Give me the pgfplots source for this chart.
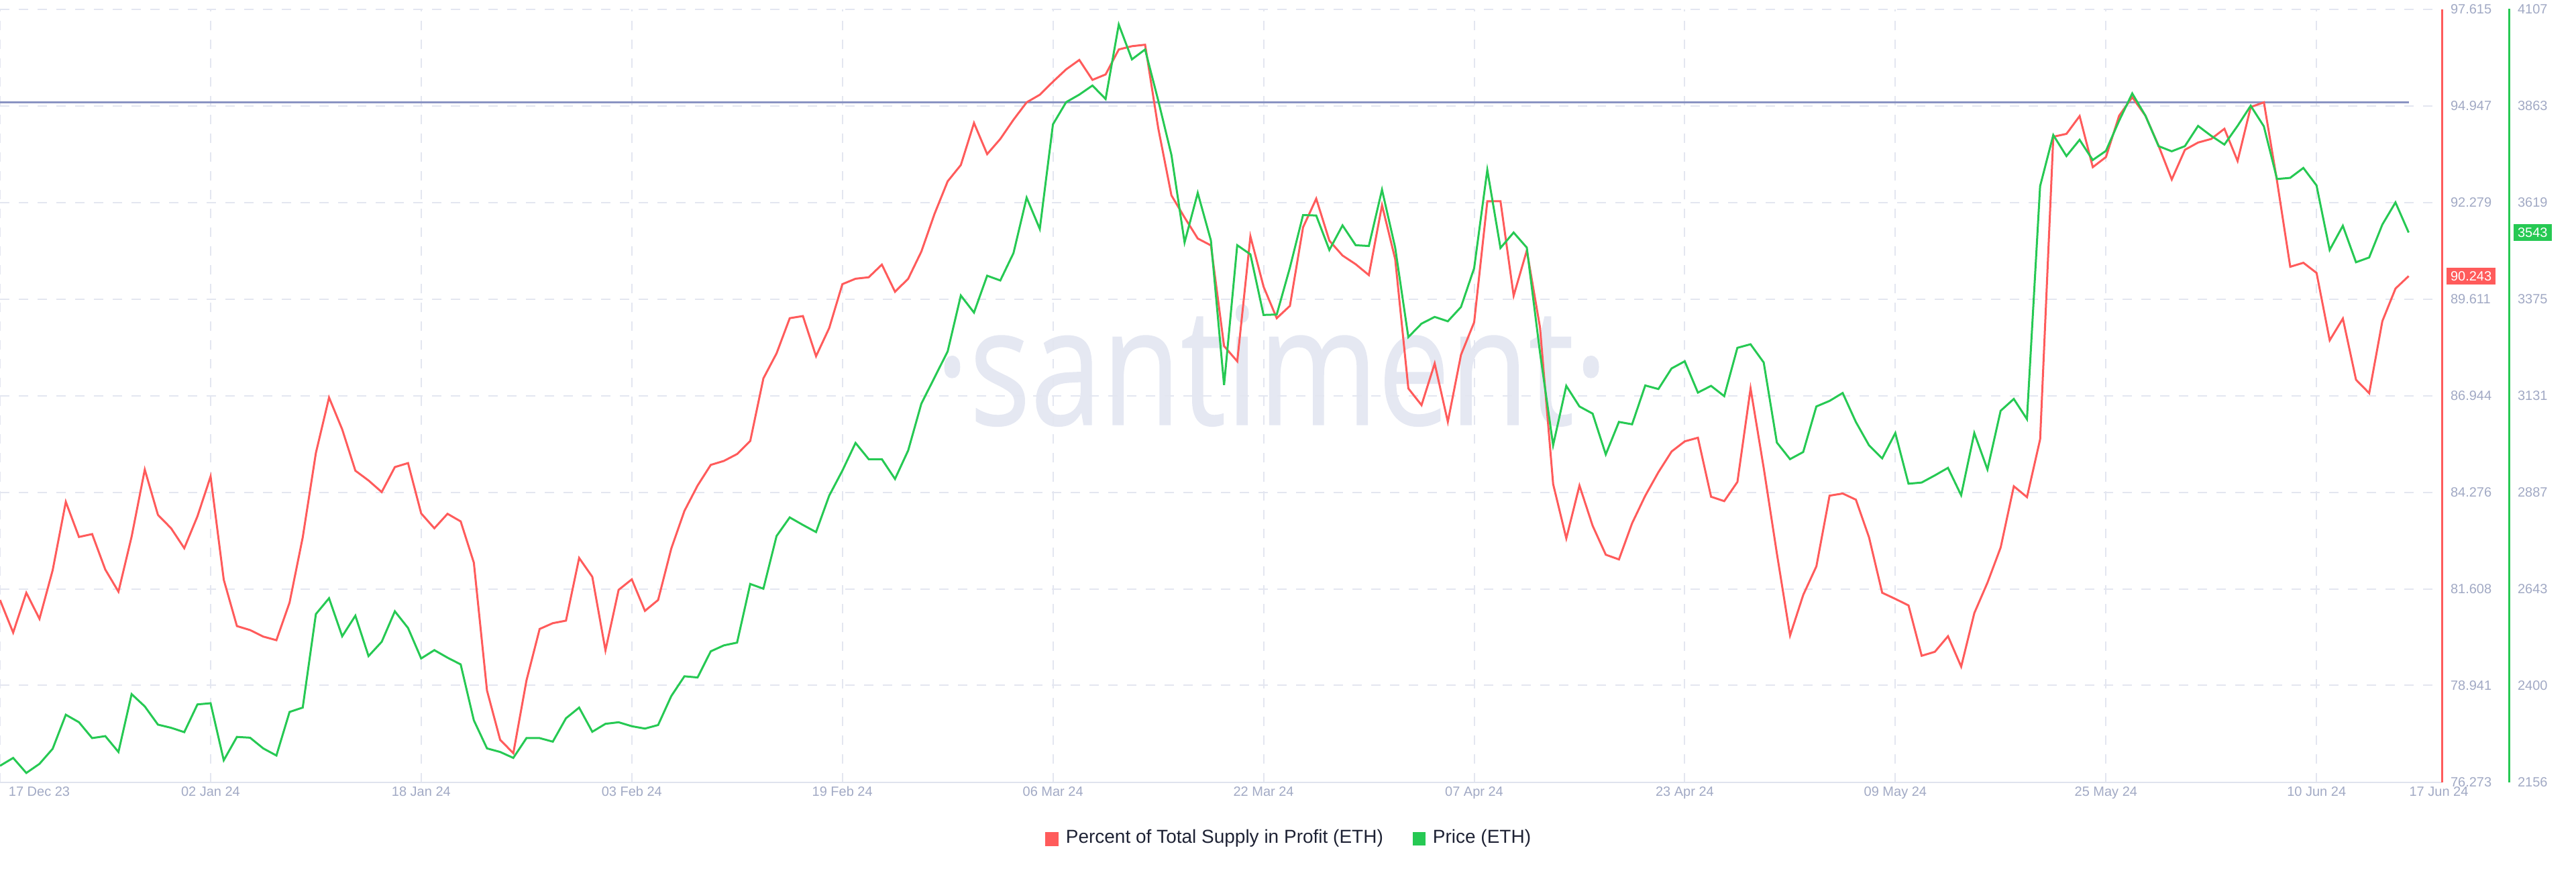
\documentclass[border=0pt]{standalone}
\usepackage{graphicx}
\usepackage{pgfplots}
\pgfplotsset{compat=1.18}
\usepackage{pgfplotstable}
\usepackage{fontspec}
\setmainfont{Liberation Sans}
\newfontfamily\wmfont[FakeBold=0.6]{Open Sans}

\definecolor{sred}{HTML}{FF5B5B}
\definecolor{sgreen}{HTML}{26C953}
\definecolor{refline}{HTML}{8A93C2}
\definecolor{gridc}{HTML}{E3E6F0}
\definecolor{ticklab}{HTML}{A1A9C4}
\definecolor{legtext}{HTML}{1E2234}
\definecolor{wmark}{HTML}{E5E8F2}
\definecolor{baseaxis}{HTML}{DFE3EE}

\pgfplotstableread{
d v
0 81.30
1 80.40
2 81.50
3 80.78
4 82.12
5 84.01
6 83.04
7 83.12
8 82.14
9 81.53
10 83.05
11 84.90
12 83.65
13 83.28
14 82.73
15 83.61
16 84.71
17 81.86
18 80.58
19 80.47
20 80.29
21 80.19
22 81.23
23 83.03
24 85.36
25 86.89
26 86.01
27 84.87
28 84.60
29 84.28
30 84.97
31 85.08
32 83.69
33 83.28
34 83.68
35 83.47
36 82.33
37 78.80
38 77.44
39 77.07
40 79.08
41 80.50
42 80.66
43 80.73
44 82.46
45 81.94
46 79.91
47 81.58
48 81.87
49 81.00
50 81.30
51 82.72
52 83.76
53 84.46
54 85.03
55 85.14
56 85.33
57 85.69
58 87.42
59 88.11
60 89.08
61 89.14
62 88.03
63 88.81
64 90.02
65 90.17
66 90.21
67 90.56
68 89.81
69 90.17
70 90.92
71 91.96
72 92.86
73 93.31
74 94.47
75 93.61
76 94.03
77 94.56
78 95.04
79 95.25
80 95.61
81 95.95
82 96.21
83 95.66
84 95.81
85 96.50
86 96.59
87 96.63
88 94.32
89 92.47
90 91.86
91 91.28
92 91.09
93 88.31
94 87.89
95 91.34
96 89.95
97 89.08
98 89.42
99 91.59
100 92.38
101 91.22
102 90.81
103 90.57
104 90.27
105 92.20
106 90.71
107 87.14
108 86.68
109 87.83
110 86.22
111 88.07
112 88.97
113 92.31
114 92.31
115 89.70
116 90.95
117 88.83
118 84.50
119 83.00
120 84.46
121 83.35
122 82.55
123 82.42
124 83.42
125 84.18
126 84.83
127 85.40
128 85.68
129 85.78
130 84.15
131 84.03
132 84.56
133 87.14
134 84.94
135 82.58
136 80.32
137 81.44
138 82.23
139 84.18
140 84.24
141 84.07
142 83.03
143 81.50
144 81.33
145 81.15
146 79.76
147 79.87
148 80.30
149 79.46
150 80.94
151 81.78
152 82.75
153 84.44
154 84.14
155 85.74
156 94.09
157 94.17
158 94.66
159 93.25
160 93.53
161 94.67
162 95.18
163 94.67
164 93.84
165 92.91
166 93.73
167 93.93
168 94.03
169 94.31
170 93.42
171 94.91
172 95.04
173 92.86
174 90.50
175 90.61
176 90.33
177 88.47
178 89.07
179 87.38
180 87.01
181 89.00
182 89.90
183 90.243
}\redtab

\pgfplotstableread{
d v
0 2197
1 2217
2 2179
3 2202
4 2240
5 2326
6 2307
7 2267
8 2272
9 2232
10 2378
11 2347
12 2301
13 2293
14 2282
15 2352
16 2355
17 2211
18 2270
19 2268
20 2241
21 2223
22 2333
23 2344
24 2580
25 2620
26 2524
27 2576
28 2474
29 2510
30 2587
31 2545
32 2468
33 2489
34 2470
35 2453
36 2312
37 2241
38 2232
39 2217
40 2267
41 2267
42 2258
43 2317
44 2344
45 2283
46 2303
47 2307
48 2297
49 2291
50 2300
51 2373
52 2423
53 2420
54 2486
55 2501
56 2508
57 2656
58 2644
59 2777
60 2824
61 2805
62 2787
63 2879
64 2942
65 3012
66 2971
67 2971
68 2921
69 2993
70 3111
71 3177
72 3243
73 3384
74 3341
75 3434
76 3422
77 3491
78 3631
79 3552
80 3816
81 3872
82 3891
83 3914
84 3880
85 4068
86 3980
87 4005
88 3876
89 3739
90 3518
91 3643
92 3523
93 3158
94 3511
95 3488
96 3335
97 3336
98 3454
99 3587
100 3586
101 3499
102 3561
103 3511
104 3509
105 3651
106 3505
107 3279
108 3313
109 3330
110 3319
111 3355
112 3453
113 3701
114 3504
115 3543
116 3505
117 3241
118 3006
119 3156
120 3104
121 3086
122 2983
123 3065
124 3059
125 3157
126 3148
127 3200
128 3218
129 3139
130 3156
131 3130
132 3252
133 3261
134 3215
135 3013
136 2971
137 2989
138 3104
139 3118
140 3138
141 3065
142 3006
143 2973
144 3037
145 2909
146 2912
147 2930
148 2949
149 2880
150 3037
151 2945
152 3093
153 3123
154 3072
155 3660
156 3789
157 3736
158 3777
159 3726
160 3749
161 3825
162 3894
163 3838
164 3761
165 3748
166 3761
167 3812
168 3787
169 3765
170 3812
171 3863
172 3811
173 3678
174 3681
175 3706
176 3662
177 3499
178 3560
179 3468
180 3480
181 3563
182 3619
183 3543
}\greentab

\begin{document}
\begin{tikzpicture}
\path[use as bounding box] (0pt,-26.9pt) rectangle (768pt,233.1pt);
\node[anchor=base west, inner sep=0pt, text=wmark] at (278.6pt,106.5pt)
  {\resizebox{200.6pt}{35.8pt}{\wmfont ·santiment·}};

\begin{axis}[
  at={(0pt,0pt)}, anchor=south west,
  scale only axis, width=728pt, height=230.4pt,
  xmin=0, xmax=185.52, ymin=76.273, ymax=97.615,
  axis x line*=bottom, axis y line*=right,
  x axis line style={draw=baseaxis, line width=0.4pt},
  y axis line style={draw=sred, line width=0.6pt},
  major tick length=0pt,
  xtick={0,16,32,48,64,80,96,112,128,144,160,176},
  xticklabels={,02 Jan 24,18 Jan 24,03 Feb 24,19 Feb 24,06 Mar 24,22 Mar 24,07 Apr 24,23 Apr 24,09 May 24,25 May 24,10 Jun 24},
  extra x ticks={0.61,183},
  extra x tick labels={17 Dec 23,17 Jun 24},
  extra x tick style={grid=none, xticklabel style={anchor=base west}},
  xticklabel style={font=\fontsize{4}{4.8}\selectfont, text=ticklab, anchor=base, inner sep=0pt, yshift=-4.1pt},
  grid=major,
  major grid style={draw=gridc, line width=0.4pt, dash pattern=on 2.8pt off 2.8pt},
  ytick={76.273,78.941,81.608,84.276,86.944,89.611,92.279,94.947,97.615},
  yticklabels={76.273,78.941,81.608,84.276,86.944,89.611,92.279,94.947,97.615},
  yticklabel style={font=\fontsize{4}{4.8}\selectfont, text=ticklab, anchor=west, inner sep=0pt, xshift=2.4pt},
  clip=false,
  legend columns=2,
  legend style={at={(0.52747,-0.07335)}, anchor=center, draw=none, fill=none, inner sep=0pt,
    font=\fontsize{5.6}{6.7}\selectfont, text=legtext, nodes={inner sep=0pt},
    /tikz/every odd column/.append style={column sep=2.2pt},
    /tikz/every even column/.append style={column sep=8.8pt}},
  legend image code/.code={\fill[#1] (0pt,-1.8pt) rectangle (3.4pt,1.8pt);},
]
\addplot[refline, line width=0.6pt, forget plot] coordinates {(0,95.044) (183,95.044)};
\addplot[sred, line width=0.6pt] table[x=d, y=v] {\redtab};
\addlegendentry{Percent of Total Supply in Profit (ETH)}
\addlegendimage{sgreen}
\addlegendentry{Price (ETH)}
\node[fill=sred, text=white, anchor=west, inner xsep=1.2pt, inner ysep=0.8pt, minimum height=5pt,
  font=\fontsize{4}{4.8}\selectfont, xshift=1.2pt] at (axis cs:185.52,90.243) {90.243};
\end{axis}

\begin{axis}[
  at={(0pt,0pt)}, anchor=south west,
  scale only axis, width=748pt, height=230.4pt,
  xmin=0, xmax=190.62, ymin=2156, ymax=4107,
  axis x line=none, axis y line*=right, xtick=\empty,
  y axis line style={draw=sgreen, line width=0.6pt},
  major tick length=0pt,
  ytick={2156,2400,2643,2887,3131,3375,3619,3863,4107},
  yticklabels={2156,2400,2643,2887,3131,3375,3619,3863,4107},
  yticklabel style={font=\fontsize{4}{4.8}\selectfont, text=ticklab, anchor=west, inner sep=0pt, xshift=2.4pt},
  clip=false,
]
\addplot[sgreen, line width=0.6pt] table[x=d, y=v] {\greentab};
\node[fill=sgreen, text=white, anchor=west, inner xsep=1.2pt, inner ysep=0.8pt, minimum height=5pt,
  font=\fontsize{4}{4.8}\selectfont, xshift=1.2pt] at (axis cs:190.62,3543) {3543};
\end{axis}
\end{tikzpicture}
\end{document}
